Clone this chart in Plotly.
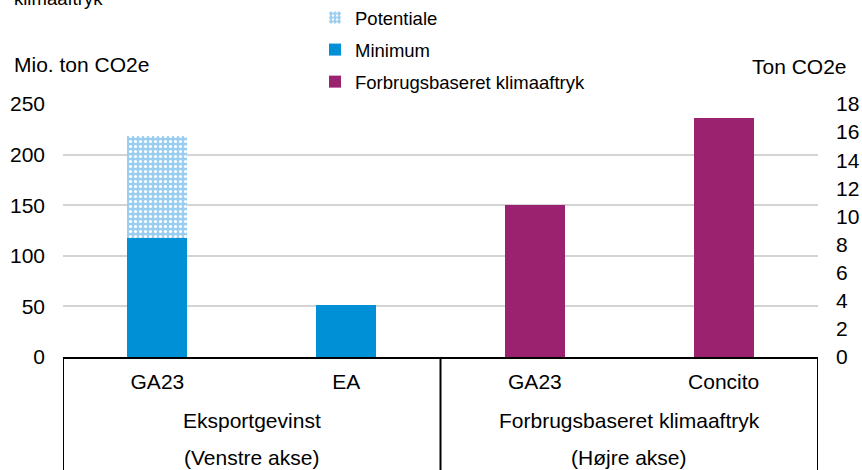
import plotly.graph_objects as go

# ---------------- data ----------------
categories = ["GA23 (eksport)", "EA", "GA23 (forbrug)", "Concito"]
tick_labels = ["GA23", "EA", "GA23", "Concito"]
group_rows_top = ["Eksportgevinst", "Forbrugsbaseret klimaaftryk"]
group_rows_bottom = ["(Venstre akse)", "(Højre akse)"]

minimum_cats = ["GA23 (eksport)", "EA"]
minimum_vals = [118, 51.5]
potentiale_cats = ["GA23 (eksport)"]
potentiale_vals = [100]
forbrug_cats = ["GA23 (forbrug)", "Concito"]
forbrug_vals = [10.8, 17.0]

left_ticks = [0, 50, 100, 150, 200, 250]
right_ticks = [0, 2, 4, 6, 8, 10, 12, 14, 16, 18]

# ---------------- styling ----------------
FONT = "Liberation Sans, Arial, sans-serif"
BLUE = "#0090D5"
LIGHTBLUE = "#9ACEF0"
PURPLE = "#9A226F"
AX = 21
LEG = 18.5

fig = go.Figure()

fig.add_trace(go.Bar(
    x=minimum_cats, y=minimum_vals, name="Minimum",
    marker=dict(color=BLUE, line=dict(width=0)),
    width=0.318, legendrank=2, legendgroup="b", yaxis="y",
))
fig.add_trace(go.Bar(
    x=potentiale_cats, y=potentiale_vals, name="Potentiale",
    marker=dict(color=LIGHTBLUE, line=dict(width=0),
                pattern=dict(shape=".", fgcolor="white", bgcolor=LIGHTBLUE,
                             size=5, solidity=0.3, fillmode="replace")),
    width=0.318, legendrank=1, legendgroup="a", yaxis="y",
))
fig.add_trace(go.Bar(
    x=forbrug_cats, y=forbrug_vals, name="Forbrugsbaseret klimaaftryk",
    marker=dict(color=PURPLE, line=dict(width=0)),
    width=0.318, legendrank=3, legendgroup="c", yaxis="y2",
))

# group labels below the category ticks
for i, (t, b) in enumerate(zip(group_rows_top, group_rows_bottom)):
    xc = 0.5 + 2 * i
    fig.add_annotation(x=xc, xref="x", y=-(420 - 357) / 253, yref="paper",
                       text=t, showarrow=False, yanchor="middle",
                       font=dict(size=AX, color="black", family=FONT))
    fig.add_annotation(x=xc, xref="x", y=-(457 - 357) / 253, yref="paper",
                       text=b, showarrow=False, yanchor="middle",
                       font=dict(size=AX, color="black", family=FONT))

# box lines of the category table
for xv in [-0.5, 1.5, 3.5]:
    fig.add_shape(type="line", xref="x", yref="paper", x0=xv, x1=xv,
                  y0=0, y1=-0.5, line=dict(color="black", width=2))

# axis titles and cut-off title line
fig.add_annotation(x=(12 - 63) / 755, xref="paper", xanchor="left",
                   y=1 + (104 - 64) / 253, yref="paper", yanchor="middle",
                   text="Mio. ton CO2e", showarrow=False,
                   font=dict(size=AX, color="black", family=FONT))
fig.add_annotation(x=(849 - 63) / 755, xref="paper", xanchor="right",
                   y=1 + (104 - 67) / 253, yref="paper", yanchor="middle",
                   text="Ton CO2e", showarrow=False,
                   font=dict(size=AX, color="black", family=FONT))
fig.add_annotation(x=(12 - 63) / 755, xref="paper", xanchor="left",
                   y=1 + (104 + 2) / 253, yref="paper", yanchor="middle",
                   text="klimaaftryk", showarrow=False,
                   font=dict(size=LEG, color="black", family=FONT))

fig.update_layout(
    width=862, height=470,
    margin=dict(l=63, r=44, t=104, b=113, pad=0, autoexpand=False),
    paper_bgcolor="white", plot_bgcolor="white",
    barmode="stack",
    font=dict(family=FONT, color="black", size=AX),
    showlegend=True,
    legend=dict(x=(315 - 63) / 755, xanchor="left",
                y=1 + (104 + 1) / 253, yanchor="top",
                orientation="v", traceorder="grouped",
                tracegroupgap=5,
                font=dict(size=LEG, color="black", family=FONT),
                bgcolor="rgba(0,0,0,0)"),
    xaxis=dict(type="category", categoryorder="array", categoryarray=categories,
               tickvals=categories, ticktext=tick_labels,
               showline=True, linecolor="black", linewidth=2,
               ticks="", showgrid=False, zeroline=False,
               tickfont=dict(size=AX, color="black", family=FONT),
               ticklabelstandoff=5, range=[-0.5, 3.5]),
    yaxis=dict(range=[0, 250], tickvals=left_ticks,
               showgrid=True, gridcolor="#D4D4D4", gridwidth=1.5,
               zeroline=False, showline=False, ticks="",
               tickfont=dict(size=AX, color="black", family=FONT),
               ticklabelstandoff=17),
    yaxis2=dict(range=[0, 18], tickvals=right_ticks, overlaying="y", side="right",
                showgrid=False, zeroline=False, showline=False, ticks="",
                tickfont=dict(size=AX, color="black", family=FONT),
                ticklabelstandoff=17),
)

fig.write_html("out.html", config={"displayModeBar": False},
               post_script="document.body.style.margin='0';document.body.style.overflow='hidden';")
